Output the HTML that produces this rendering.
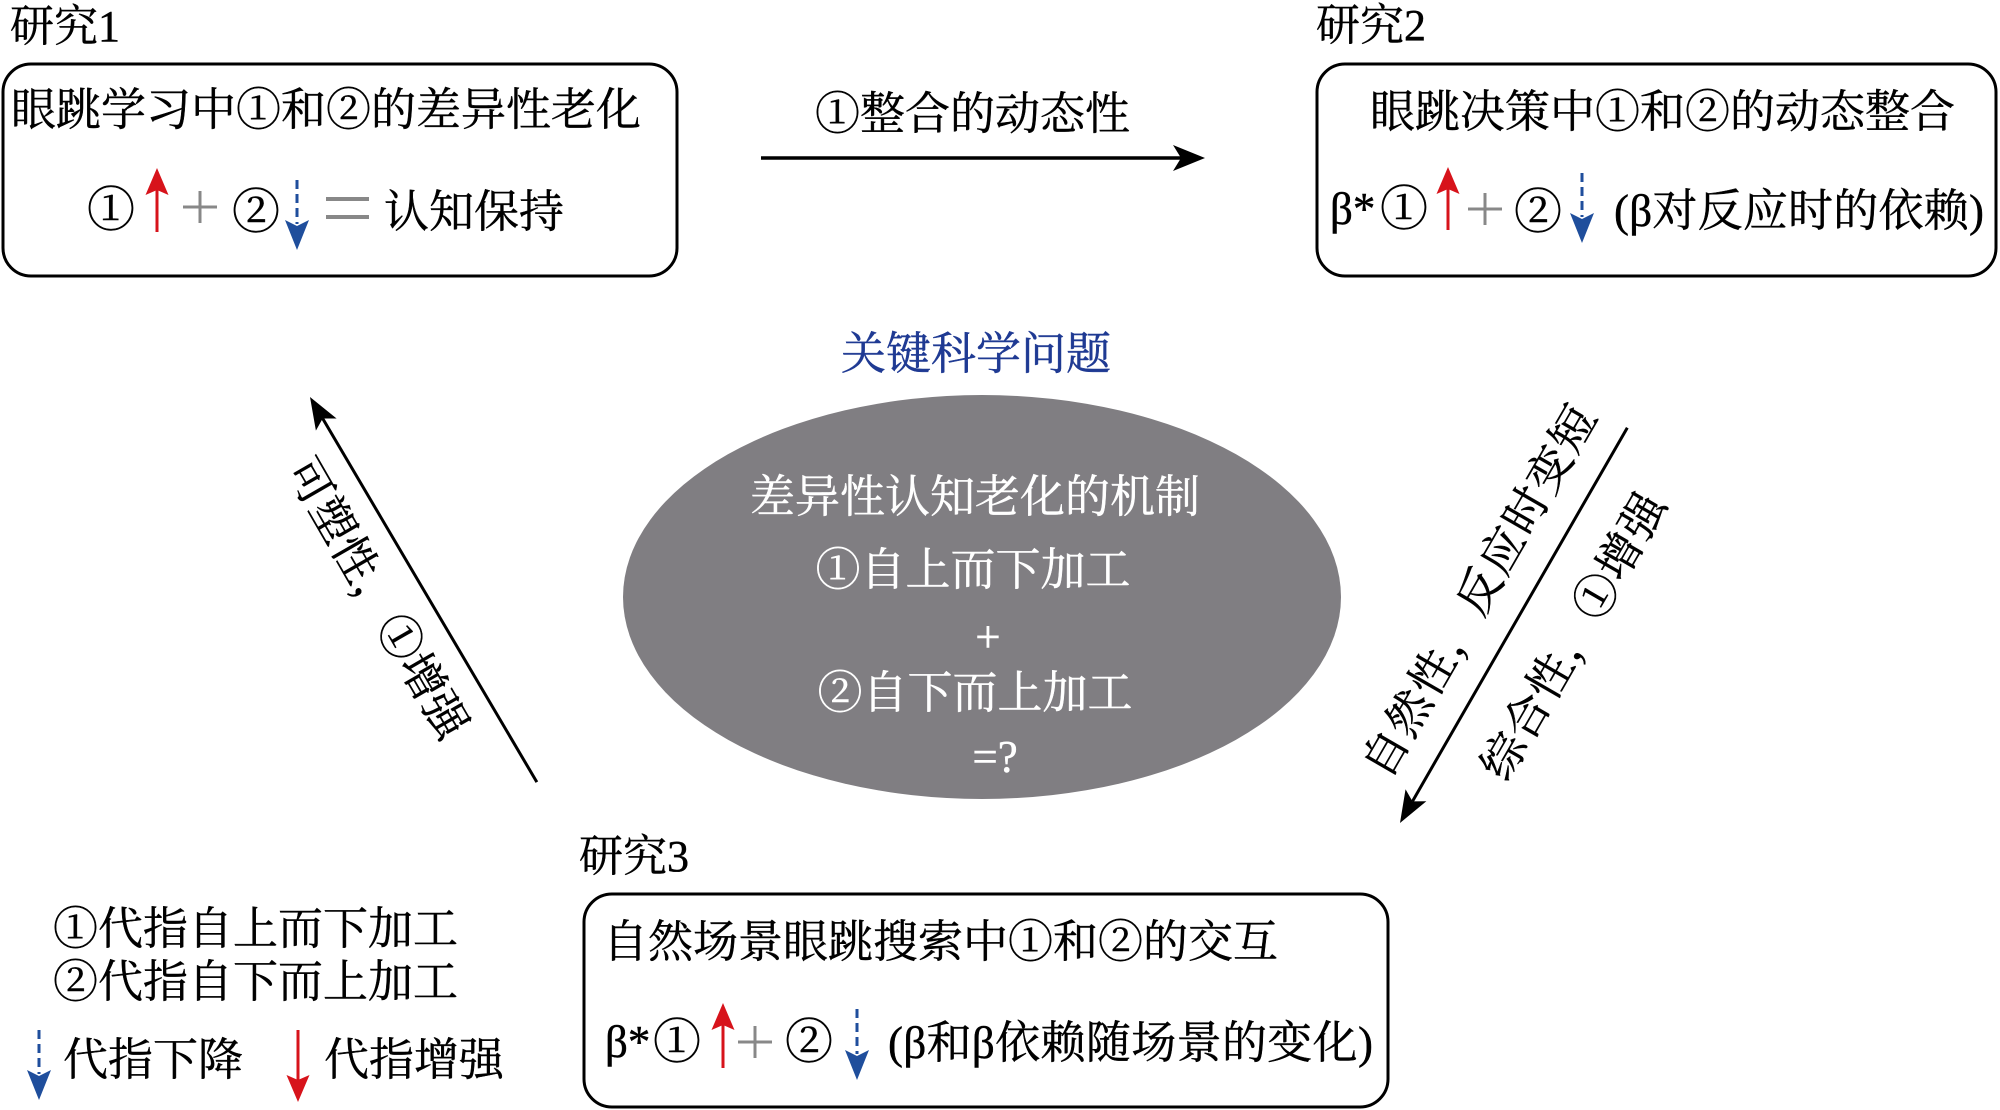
<!DOCTYPE html>
<html><head><meta charset="utf-8">
<style>
html,body{margin:0;padding:0;background:#fff;}
svg{display:block;}
text{font-family:"Liberation Serif","Noto Serif CJK SC",serif;font-size:45px;fill:#000;stroke:#000;stroke-width:0.45px;}
.w{fill:#fff;stroke:#fff;}
.b{fill:#1f3a93;stroke:#1f3a93;}
.c{font-size:48px;}
</style></head>
<body>
<svg width="2000" height="1110" viewBox="0 0 2000 1110" xmlns="http://www.w3.org/2000/svg">
<rect width="2000" height="1110" fill="#fff"/>

<!-- Study 1 -->
<text x="10" y="41" style="font-size:44px">研究1</text>
<rect x="3" y="64" width="674" height="212" rx="28" ry="28" fill="none" stroke="#000" stroke-width="3"/>
<text x="11" y="125">眼跳学习中①和②的差异性老化</text>
<text x="87" y="226" class="c">①</text>
<line x1="157" y1="190" x2="157" y2="232" stroke="#d7131b" stroke-width="3"/>
<polygon points="157,168 168.5,195 157,190 145.5,195" fill="#d7131b"/>
<line x1="183" y1="207" x2="217" y2="207" stroke="#888" stroke-width="3"/>
<line x1="200" y1="191" x2="200" y2="223" stroke="#888" stroke-width="3"/>
<text x="232" y="228" class="c">②</text>
<line x1="297" y1="180" x2="297" y2="224" stroke="#1f4e9c" stroke-width="3" stroke-dasharray="9 5"/>
<polygon points="297,250 309,220 297,226 285,220" fill="#1f4e9c"/>
<line x1="326" y1="199" x2="369" y2="199" stroke="#888" stroke-width="4"/>
<line x1="326" y1="217" x2="369" y2="217" stroke="#888" stroke-width="4"/>
<text x="384" y="227">认知保持</text>

<!-- Study 2 -->
<text x="1316" y="40" style="font-size:44px">研究2</text>
<rect x="1317" y="64" width="679" height="212" rx="28" ry="28" fill="none" stroke="#000" stroke-width="3"/>
<text x="1370" y="127">眼跳决策中①和②的动态整合</text>
<text x="1330" y="224">β*</text>
<text x="1380" y="225" class="c">①</text>
<line x1="1448" y1="189" x2="1448" y2="230" stroke="#d7131b" stroke-width="3"/>
<polygon points="1448,167 1459.5,194 1448,189 1436.5,194" fill="#d7131b"/>
<line x1="1468" y1="209" x2="1502" y2="209" stroke="#888" stroke-width="3"/>
<line x1="1485" y1="193" x2="1485" y2="225" stroke="#888" stroke-width="3"/>
<text x="1514" y="228" class="c">②</text>
<line x1="1582" y1="173" x2="1582" y2="217" stroke="#1f4e9c" stroke-width="3" stroke-dasharray="9 5"/>
<polygon points="1582,243 1594,213 1582,219 1570,213" fill="#1f4e9c"/>
<text x="1614" y="226" textLength="370">(β对反应时的依赖)</text>

<!-- top arrow -->
<text x="815" y="129">①整合的动态性</text>
<line x1="761" y1="158" x2="1184" y2="158" stroke="#000" stroke-width="3.5"/>
<polygon points="1205,158 1173,145 1181,158 1173,171" fill="#000"/>

<!-- key question -->
<text x="841" y="369" class="b">关键科学问题</text>
<ellipse cx="982" cy="597" rx="359" ry="202" fill="#807e82"/>
<text x="975" y="512" text-anchor="middle" class="w">差异性认知老化的机制</text>
<text x="973" y="585" text-anchor="middle" class="w">①自上而下加工</text>
<text x="988" y="652" text-anchor="middle" class="w">+</text>
<text x="975" y="708" text-anchor="middle" class="w">②自下而上加工</text>
<text x="995" y="772" text-anchor="middle" class="w">=?</text>

<!-- left arrow -->
<g transform="translate(310,397) rotate(-120.5)">
<line x1="-25" y1="0" x2="-447" y2="0" stroke="#000" stroke-width="3"/>
<polygon points="0,0 -32,-12 -25,0 -32,12" fill="#000"/>
</g>
<text transform="translate(378,598) rotate(60)" x="0" y="16" text-anchor="middle">可塑性，①增强</text>

<!-- right arrow -->
<g transform="translate(1400,823) rotate(119.9)">
<line x1="-25" y1="0" x2="-456" y2="0" stroke="#000" stroke-width="3"/>
<polygon points="0,0 -32,-12 -25,0 -32,12" fill="#000"/>
</g>
<text transform="translate(1479,591) rotate(-60)" x="0" y="16" text-anchor="middle" textLength="420">自然性，反应时变短</text>
<text transform="translate(1573,636) rotate(-60)" x="0" y="16" text-anchor="middle" textLength="322">综合性，①增强</text>

<!-- Study 3 -->
<text x="579" y="871" style="font-size:44px">研究3</text>
<rect x="584" y="894" width="804" height="213" rx="28" ry="28" fill="none" stroke="#000" stroke-width="3"/>
<text x="603" y="957">自然场景眼跳搜索中①和②的交互</text>
<text x="605" y="1057">β*</text>
<text x="653" y="1058" class="c">①</text>
<line x1="723" y1="1025" x2="723" y2="1068" stroke="#d7131b" stroke-width="3"/>
<polygon points="723,1003 734.5,1030 723,1025 711.5,1030" fill="#d7131b"/>
<line x1="738" y1="1042" x2="772" y2="1042" stroke="#888" stroke-width="3"/>
<line x1="755" y1="1026" x2="755" y2="1058" stroke="#888" stroke-width="3"/>
<text x="785" y="1058" class="c">②</text>
<line x1="857" y1="1009" x2="857" y2="1054" stroke="#1f4e9c" stroke-width="3" stroke-dasharray="9 5"/>
<polygon points="857,1080 869,1050 857,1056 845,1050" fill="#1f4e9c"/>
<text x="888" y="1058" textLength="485">(β和β依赖随场景的变化)</text>

<!-- legend -->
<text x="53" y="944">①代指自上而下加工</text>
<text x="53" y="997">②代指自下而上加工</text>
<line x1="39" y1="1030" x2="39" y2="1074" stroke="#1f4e9c" stroke-width="3" stroke-dasharray="9 5"/>
<polygon points="39,1100 51,1070 39,1076 27,1070" fill="#1f4e9c"/>
<text x="63" y="1075">代指下降</text>
<line x1="298" y1="1030" x2="298" y2="1080" stroke="#d7131b" stroke-width="3"/>
<polygon points="298,1102 309.5,1075 298,1080 286.5,1075" fill="#d7131b"/>
<text x="324" y="1075">代指增强</text>
</svg>
</body></html>
